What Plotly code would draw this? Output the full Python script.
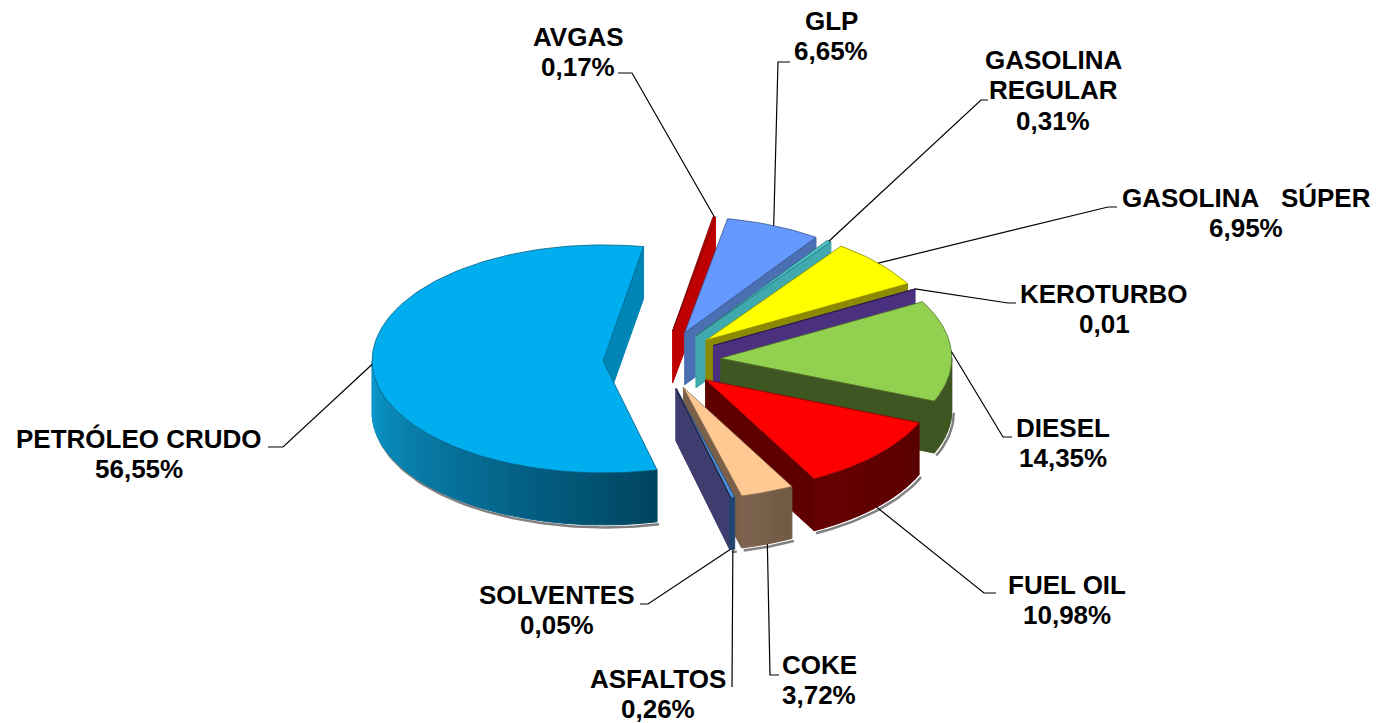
import math
import plotly.graph_objects as go

# ---- data, clockwise from the top of the pie
CATEGORIES = ["PETRÓLEO CRUDO", "AVGAS", "GLP", "GASOLINA<br>REGULAR", "GASOLINA   SÚPER",
              "KEROTURBO", "DIESEL", "FUEL OIL", "COKE", "ASFALTOS", "SOLVENTES"]
VALUES = [56.55, 0.17, 6.65, 0.31, 6.95, 0.01, 14.35, 10.98, 3.72, 0.26, 0.05]
VALUE_TEXT = ["56,55%", "0,17%", "6,65%", "0,31%", "6,95%", "0,01", "14,35%", "10,98%", "3,72%", "0,26%", "0,05%"]

# ---- styles
TOP = ["#00AEEF", "#CC0000", "#6699FF", "#4CC9CC", "#FFFF00", "#4B2F80", "#92D050", "#FF0000", "#FFC993", "#4A90DE", "#3F3D70"]
SIDE = ["#0086B6", "#BE0000", "#4A6FB2", "#3FA9AD", "#8C8A00", "#4B3080", "#3E5622", "#5E0000", "#7A6048", "#3F3D70", "#3F3D70"]
ARC = [("#0C9AD0", "#00445F"), ("#B00000", "#B00000"), ("#4A6FB2", "#4A6FB2"), ("#3FA9AD", "#3FA9AD"),
       ("#8C8A00", "#8C8A00"), ("#4B3080", "#4B3080"), ("#3E5622", "#3E5622"), ("#660000", "#5A0000"),
       ("#7F6450", "#6F5A42"), ("#1F4570", "#1F4570"), ("#1F4570", "#1F4570")]

# ---- projection layout (pixels of the plot)
CX, CY = 662, 360
RX = 231
RY_BACK, RY_FRONT = 116, 112  # the near half of the disc is slightly flatter
EXPLODE = 0.255
DEPTH = 52
START_DEG = 166.5  # where the first slice begins, clockwise from top
LINE_GAP = 30.5

LABEL_POS = [(139, 454), (578, 52), (831, 36), (1053, 90), (1246, 213), (1104, 309),
             (1063, 443), (1067, 600), (819, 680), (658, 694), (557, 610)]
# leader lines: from the slice edge through an elbow to a short stub
LEADER = [[(283, 447), (268, 447)], [(632, 73), (618, 73)], [(778, 62), (790, 62)],
          [(981, 100), (988, 100)], [(1108, 207), (1117, 207)], [(1008, 303), (1016, 303)],
          [(1003, 437), (1012, 437)], [(984, 593), (996, 593)], [(770, 675), (779, 675)],
          [(732, 687)], [(648, 604), (640, 604)]]


def mix(a, b, f):
    ca = [int(a[i:i + 2], 16) for i in (1, 3, 5)]
    cb = [int(b[i:i + 2], 16) for i in (1, 3, 5)]
    return "rgb(%d,%d,%d)" % tuple(round(x + (y - x) * f) for x, y in zip(ca, cb))


def rim(apex, deg, drop=0.0):
    t = math.radians(deg)
    c = math.cos(t)
    return apex[0] + RX * math.sin(t), apex[1] - (RY_BACK if c > 0 else RY_FRONT) * c + drop


def arc_pts(apex, a, b, drop=0.0, step=1.5):
    n = max(2, int(abs(b - a) / step) + 1)
    return [rim(apex, a + (b - a) * i / (n - 1), drop) for i in range(n)]


fig = go.Figure()


def poly(pts, fill, line=None, width=1.0):
    xs = [p[0] for p in pts] + [pts[0][0]]
    ys = [p[1] for p in pts] + [pts[0][1]]
    fig.add_trace(go.Scatter(x=xs, y=ys, mode="lines", fill="toself", fillcolor=fill,
                             line=dict(color=line or fill, width=width), hoverinfo="skip"))


slices = []
acc = START_DEG
total = sum(VALUES)
for i, v in enumerate(VALUES):
    span = v / total * 360
    t1, t2 = acc, acc + span
    acc = t2
    if t1 >= 360:
        t1 -= 360
        t2 -= 360
    mid = math.radians((t1 + t2) / 2)
    apex = (CX + EXPLODE * RX * math.sin(mid), CY - EXPLODE * RY_BACK * math.cos(mid))
    slices.append(dict(i=i, t1=t1, t2=t2, mid=mid, apex=apex))

for s in sorted(slices, key=lambda s: -math.cos(s["mid"])):
    i, t1, t2, apex = s["i"], s["t1"], s["t2"], s["apex"]
    a1 = max(t1, 90)
    a2 = min(t2, 270)
    # soft grey shadow below the rim
    if a2 > a1:
        sh = [(x + 2, y + 2.5) for x, y in arc_pts(apex, a1, a2, DEPTH)]
        fig.add_trace(go.Scatter(x=[p[0] for p in sh], y=[p[1] for p in sh], mode="lines",
                                 line=dict(color="#808080", width=2.5), hoverinfo="skip"))
    # cut faces
    if math.sin(math.radians(t2)) > 0:
        e = rim(apex, t2)
        poly([apex, e, (e[0], e[1] + DEPTH), (apex[0], apex[1] + DEPTH)], SIDE[i])
    if math.sin(math.radians(t1)) < 0:
        e = rim(apex, t1)
        poly([apex, e, (e[0], e[1] + DEPTH), (apex[0], apex[1] + DEPTH)], SIDE[i])
    # rim wall, in strips so that the shade can change along it
    if a2 > a1:
        strips = max(1, int((a2 - a1) / 2.5))
        for k in range(strips):
            b1 = a1 + (a2 - a1) * k / strips
            b2 = a1 + (a2 - a1) * (k + 1) / strips
            c = mix(ARC[i][1], ARC[i][0], (k + 0.5) / strips)
            poly(arc_pts(apex, b1, b2) + arc_pts(apex, b2, b1, DEPTH), c)
    # top face
    poly([apex] + arc_pts(apex, t1, t2), TOP[i], line=mix(TOP[i], "#000000", 0.45), width=0.8)

# leader lines
for s in slices:
    i = s["i"]
    deg = (s["t1"] + s["t2"]) / 2
    drop = DEPTH if math.cos(math.radians(deg)) < -0.3 else 0
    start = rim(s["apex"], deg, drop)
    pts = [start] + LEADER[i]
    fig.add_trace(go.Scatter(x=[p[0] for p in pts], y=[p[1] for p in pts], mode="lines",
                             line=dict(color="#000000", width=1.2), hoverinfo="skip"))

for name, txt, (x, y) in zip(CATEGORIES, VALUE_TEXT, LABEL_POS):
    rows = name.replace("   ", "\u00a0\u00a0\u00a0").split("<br>") + [txt]
    for r, row in enumerate(rows):
        fig.add_annotation(x=x, y=y + (r - (len(rows) - 1) / 2) * LINE_GAP, xref="x", yref="y",
                           text="<b>%s</b>" % row, showarrow=False, xanchor="center", yanchor="middle",
                           font=dict(family="Liberation Sans", size=26, color="#000000"))

fig.update_layout(width=1379, height=723, margin=dict(l=0, r=0, t=0, b=0), showlegend=False,
                  paper_bgcolor="#FFFFFF", plot_bgcolor="#FFFFFF",
                  xaxis=dict(range=[0, 1379], visible=False, fixedrange=True),
                  yaxis=dict(range=[723, 0], visible=False, fixedrange=True))
fig.write_html("out.html", config=dict(displayModeBar=False),
               post_script="document.body.style.margin='0';document.body.style.overflow='hidden';")
